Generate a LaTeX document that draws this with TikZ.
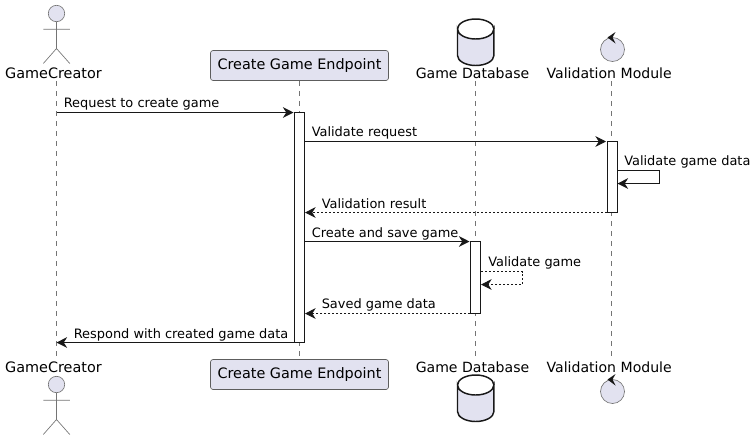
\documentclass[tikz,border=0pt]{standalone}
\usepackage{fontspec}
\setmainfont{DejaVu Sans}
\usetikzlibrary{arrows.meta,shapes.geometric}
\definecolor{partfill}{HTML}{E2E2F0}
\definecolor{partline}{HTML}{181818}
\tikzset{
  headbox/.style={draw=partline!70,line width=0.5pt,fill=partfill,rounded corners=1.9pt,minimum width=133.5pt,minimum height=22.5pt,inner sep=0pt,font=\fontsize{10.8}{12}\selectfont},
  headtext/.style={anchor=base,inner sep=0pt,font=\fontsize{10.8}{12}\selectfont},
  sidetext/.style={headtext,font=\fontsize{10.55}{12}\selectfont},
  msgtext/.style={anchor=base west,inner sep=0pt,font=\fontsize{9.7}{12}\selectfont},
  lifeline/.style={draw=partline!60,line width=0.4pt,dash pattern=on 3.75pt off 3.75pt},
  msg/.style={draw=partline,line width=0.75pt,-{Stealth[length=8pt,width=8pt,inset=2.6pt]}},
  reply/.style={msg,dash pattern=on 1.5pt off 1.5pt},
  actbar/.style={draw=partline,line width=0.75pt,fill=white,inner sep=0pt,minimum width=7.5pt},
  figure/.style={draw=partline!60,line width=0.5pt},
  dbshape/.style={draw=partline,line width=1.1pt,fill=partfill},
}
\begin{document}
\begin{tikzpicture}[x=0.75pt,y=0.75pt,yscale=-1,xscale=1]
\useasboundingbox (0,0) rectangle (756,440);

% Lifelines
\coordinate (creatorTop) at (56.5,81);
\coordinate (creatorEnd) at (56.5,357);
\coordinate (dbTop) at (475.5,81);
\coordinate (dbEnd) at (475.5,357);
\coordinate (validTop) at (611.5,81);
\coordinate (validEnd) at (611.5,357);
\node [headbox] (endpointTop) at (299.5,65.5) {Create Game Endpoint};
\node [headbox] (endpointEnd) at (299.5,374.5) {Create Game Endpoint};
\draw [lifeline] (creatorTop) -- (creatorEnd);
\draw [lifeline] (endpointTop) -- (endpointEnd);
\draw [lifeline] (dbTop) -- (dbEnd);
\draw [lifeline] (validTop) -- (validEnd);

% Actor, top and bottom
\foreach \y in {0,371}{
  \draw [figure,fill=partfill] (56.5,13.5+\y) circle [radius=8.2];
  \draw [figure] (56.5,21.7+\y) -- (56.5,48.5+\y) (43.3,29.3+\y) -- (69.8,29.3+\y) (43.3,63.5+\y) -- (56.5,48.5+\y) -- (69.8,63.5+\y);
}

% Database, top and bottom
\foreach \y in {0,356}{
  \draw [dbshape] (457.5,29+\y) arc [start angle=180,end angle=0,x radius=18.2,y radius=10] -- (493.9,55.5+\y) arc [start angle=0,end angle=180,x radius=18.2,y radius=10] -- cycle;
  \draw [dbshape,fill=none] (457.5,29+\y) arc [start angle=180,end angle=360,x radius=18.2,y radius=10];
}

% Control, top and bottom
\foreach \y in {0,342}{
  \draw [figure,fill=partfill] (612.5,49.5+\y) circle [radius=12];
  \fill [partline] (607.5,37.5+\y) -- (615.5,32+\y) -- (612.5,37.5+\y) -- (615.5,43.5+\y) -- cycle;
}

% Participant names
\node [headtext] (creatorName) at (53.5,78) {GameCreator};
\node [sidetext] (dbName) at (472.5,78) {Game Database};
\node [sidetext] (validName) at (609.2,78) {Validation Module};
\node [headtext] (creatorNameB) at (53.5,372) {GameCreator};
\node [sidetext] (dbNameB) at (472.5,372) {Game Database};
\node [sidetext] (validNameB) at (609.2,372) {Validation Module};

% Activation bars
\node [actbar,minimum height=172.5pt] (endpointBar) at (299.5,227.5) {};
\node [actbar,minimum height=53.25pt] (validBar) at (612,177) {};
\node [actbar,minimum height=54pt] (dbBar) at (475.5,277.5) {};

% Messages
\coordinate (m1) at (56.5,112.5);
\coordinate (m1e) at (293.5,112.5);
\coordinate (m2) at (endpointBar.east |- 0,141.5);
\coordinate (m2e) at (606,141.5);
\coordinate (m3) at (validBar.east |- 0,170.5);
\coordinate (m3c) at (659.5,170.5);
\coordinate (m3d) at (659.5,183.5);
\coordinate (m3e) at (validBar.east |- 0,183.5);
\coordinate (m4) at (validBar.west |- 0,212.5);
\coordinate (m4e) at (endpointBar.east |- 0,212.5);
\coordinate (m5) at (endpointBar.east |- 0,241.5);
\coordinate (m5e) at (469.5,241.5);
\coordinate (m6) at (dbBar.east |- 0,271.5);
\coordinate (m6c) at (522.5,271.5);
\coordinate (m6d) at (522.5,284.5);
\coordinate (m6e) at (dbBar.east |- 0,284.5);
\coordinate (m7) at (dbBar.west |- 0,313.5);
\coordinate (m7e) at (endpointBar.east |- 0,313.5);
\coordinate (m8) at (endpointBar.west |- 0,342.5);
\coordinate (m8e) at (56.5,342.5);
\draw [msg] (m1) -- (m1e);
\draw [msg] (m2) -- (m2e);
\draw [msg] (m3) -- (m3c) -- (m3d) -- (m3e);
\draw [reply] (m4) -- (m4e);
\draw [msg] (m5) -- (m5e);
\draw [reply] (m6) -- (m6c) -- (m6d) -- (m6e);
\draw [reply] (m7) -- (m7e);
\draw [msg] (m8) -- (m8e);

% Message labels
\node [msgtext] (t1) at (63.5,107.5) {Request to create game};
\node [msgtext] (t2) at (311.5,136.5) {Validate request};
\node [msgtext] (t3) at (624,165.5) {Validate game data};
\node [msgtext] (t4) at (321.5,208) {Validation result};
\node [msgtext] (t5) at (311.5,237) {Create and save game};
\node [msgtext] (t6) at (488,266.5) {Validate game};
\node [msgtext] (t7) at (321.5,308.5) {Saved game data};
\node [msgtext] (t8) at (73.5,338) {Respond with created game data};
\end{tikzpicture}
\end{document}
